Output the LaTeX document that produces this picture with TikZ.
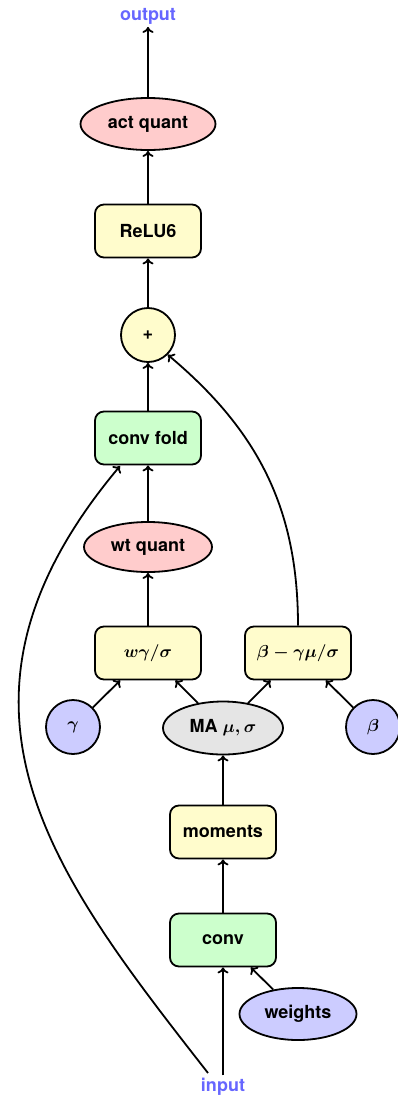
\documentclass[tikz,border=0pt]{standalone}
\usepackage{fontspec}
\setmainfont{TeX Gyre Heros}
\usetikzlibrary{arrows.meta,shapes.geometric}
\begin{document}
\begin{tikzpicture}[x=1pt,y=1pt,
  font=\fontsize{18}{21}\selectfont\bfseries\boldmath,
  line width=1.8pt,
  box/.style={draw, rounded corners=9pt, minimum width=106pt, minimum height=53pt, inner sep=0pt},
  ell/.style={draw, ellipse, inner sep=0pt},
  circ/.style={draw, circle, minimum size=54pt, inner sep=0pt},
  lbl/.style={text=blue!60, inner sep=2pt},
  arr/.style={-{To[length=6pt,width=11pt]}},
  yel/.style={fill=yellow!20},
  grn/.style={fill=green!20},
  pnk/.style={fill=red!20},
  blu/.style={fill=blue!20},
  gry/.style={fill=gray!20}]
\useasboundingbox (0,0) rectangle (398,-1101);
\node[lbl] (output) at (148,-16) {output};
\node[ell,pnk,minimum width=135pt,minimum height=52pt] (actq) at (148,-124) {act quant};
\node[box,yel] (relu) at (148,-231) {ReLU6};
\node[circ,yel] (plus) at (148,-335) {+};
\node[box,grn] (fold) at (148,-438) {conv fold};
\node[ell,pnk,minimum width=128pt,minimum height=50pt] (wtq) at (148,-547) {wt quant};
\node[box,yel] (wg) at (148,-653) {$w\gamma/\sigma$};
\node[box,yel] (bg) at (298,-653) {$\beta-\gamma\mu/\sigma$};
\node[circ,blu] (gamma) at (73,-727) {$\gamma$};
\node[ell,gry,minimum width=120pt,minimum height=53pt] (ma) at (223,-728) {MA $\mu,\sigma$};
\node[circ,blu] (beta) at (373,-727) {$\beta$};
\node[box,yel] (moments) at (223,-832) {moments};
\node[box,grn] (conv) at (223,-940) {conv};
\node[ell,blu,minimum width=117pt,minimum height=52pt] (weights) at (298,-1014) {weights};
\node[lbl] (input) at (223,-1087) {input};
\coordinate (inL) at (208,-1073);
\coordinate (foldIn) at (120,-466);

\draw[arr] (input) -- (conv);
\draw[arr] (weights) -- (conv);
\draw[arr] (conv) -- (moments);
\draw[arr] (moments) -- (ma);
\draw[arr] (gamma) -- (wg);
\draw[arr] (ma) -- (wg);
\draw[arr] (ma) -- (bg);
\draw[arr] (beta) -- (bg);
\draw[arr] (wg) -- (wtq);
\draw[arr] (wtq) -- (fold);
\draw[arr] (fold) -- (plus);
\draw[arr] (plus) -- (relu);
\draw[arr] (relu) -- (actq);
\draw[arr] (actq) -- (output);
\draw[arr] (inL) to[out=128, in=-130, out looseness=1.05, in looseness=1.3] (foldIn);
\draw[arr] (bg.north) to[out=90, in=-40] (plus.south east);
\end{tikzpicture}
\end{document}
